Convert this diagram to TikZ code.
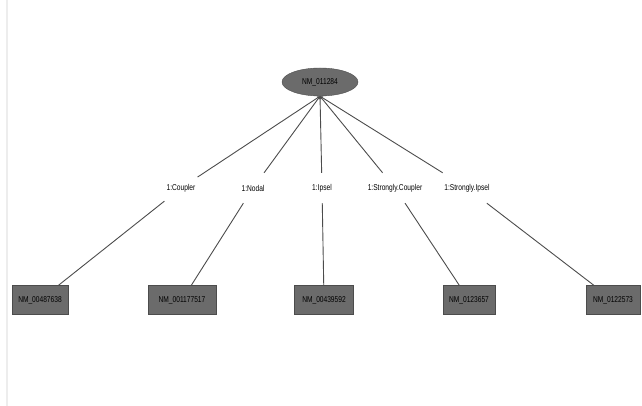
\documentclass[tikz,border=0pt]{standalone}
\usepackage{fontspec}
\setmainfont[FakeStretch=0.78]{Liberation Sans}
\usetikzlibrary{shapes.geometric,arrows.meta,positioning}
\definecolor{dkgray}{gray}{0.42}
\definecolor{edgegray}{gray}{0.3}
\definecolor{framegray}{gray}{0.93}

\begin{document}
\begin{tikzpicture}[x=1pt,y=1pt,
      every node/.style={font=\fontsize{8.5}{9}\selectfont},
      gene/.style={draw=black!70, fill=dkgray, minimum height=29pt, inner sep=1pt},
      root/.style={ellipse, draw=black!70, fill=dkgray, minimum width=76pt, minimum height=28pt},
      rel/.style={fill=white, inner sep=2pt, minimum height=30pt},
      link/.style={draw=edgegray, line width=0.9pt},
      arrow/.style={link, -{Stealth[length=3pt,width=3pt]}}
    ]
    \useasboundingbox (0,0) rectangle (642,406);
    \draw[framegray, line width=1.5pt] (7,0) -- (7,406);

    \node[root] (tf) at (320,324) {NM\_011284};

    \node[rel] (r1) at (181,218) {1:Coupler};
    \node[rel] (r2) at (253,218) {1:Nodal};
    \node[rel] (r3) at (322,218) {1:Ipsel};
    \node[rel] (r4) at (395,218) {1:Strongly.Coupler};
    \node[rel] (r5) at (467,218) {1:Strongly.Ipsel};

    \node[gene, minimum width=56pt] (g1) at (40,106)  {NM\_00487638};
    \node[gene, minimum width=68pt] (g2) at (182,106) {NM\_001177517};
    \node[gene, minimum width=59pt] (g3) at (324,106) {NM\_00439592};
    \node[gene, minimum width=52pt] (g4) at (469,106) {NM\_0123657};
    \node[gene, minimum width=54pt] (g5) at (613,106) {NM\_0122573};

    \draw[arrow] (r1) -- (tf.south);
    \draw[arrow] (r2) -- (tf.south);
    \draw[arrow] (r3) -- (tf.south);
    \draw[arrow] (r4) -- (tf.south);
    \draw[arrow] (r5) -- (tf.south);
    \draw[link] (g1) -- (r1);
    \draw[link] (g2) -- (r2);
    \draw[link] (g3) -- (r3);
    \draw[link] (g4) -- (r4);
    \draw[link] (g5) -- (r5);
  \end{tikzpicture}
\end{document}
